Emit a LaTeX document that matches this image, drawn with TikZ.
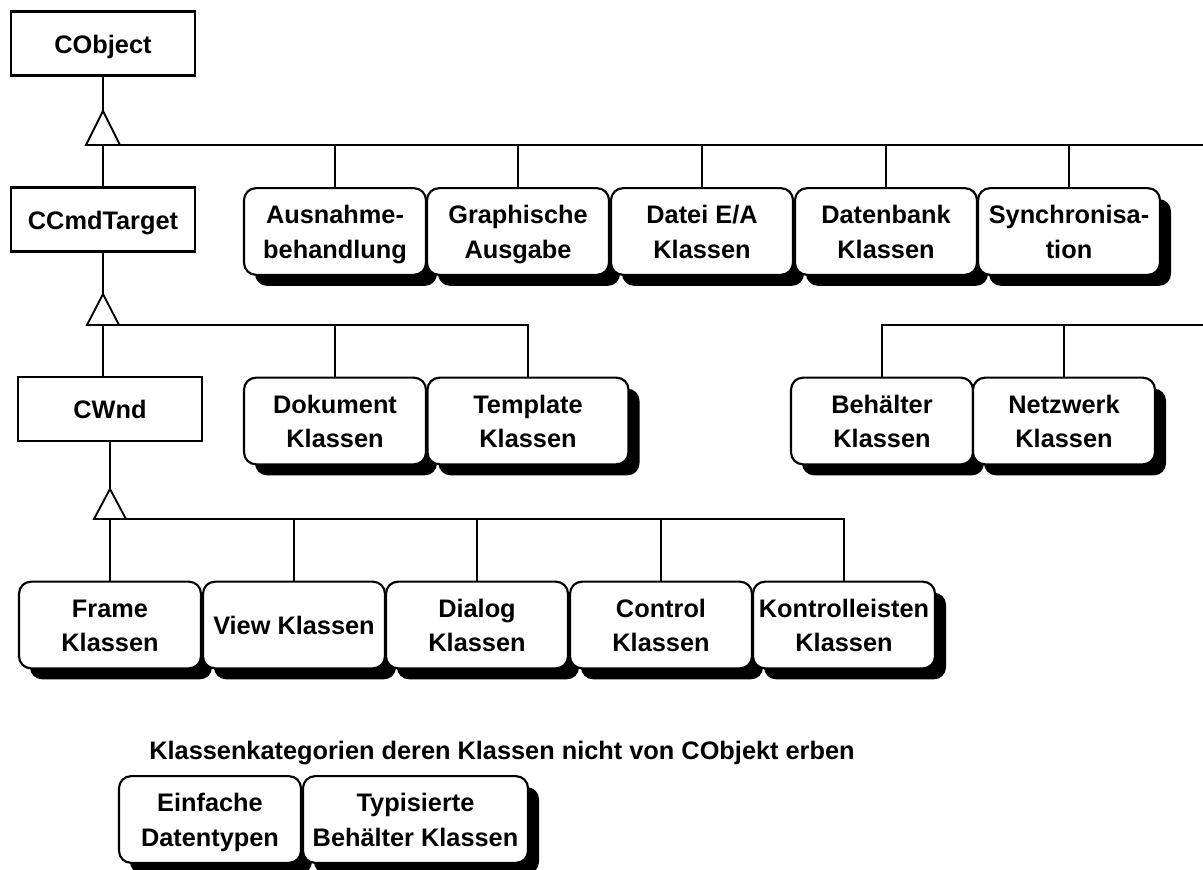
\documentclass[tikz,border=0pt]{standalone}
\usepackage{fontspec}
\setmainfont{Liberation Sans}
\usetikzlibrary{shadows}
\newcommand\boxfont{\fontsize{19}{26}\selectfont\bfseries}
% fixed first-line height and last-line depth, so every label sits alike
\newcommand\topstrut{\rule{0pt}{18.4pt}}
\newcommand\botstrut{\rule[-4pt]{0pt}{0pt}}
\newcommand\lbl[1]{\topstrut#1\botstrut}

\begin{document}
\begin{tikzpicture}[x=0.75pt,y=-0.75pt,
  cls/.style={draw, fill=white, line width=1.6pt, minimum width=138pt,
    minimum height=48pt, inner sep=0pt, font=\boxfont,
    execute at begin node=\topstrut, execute at end node=\botstrut},
  cat/.style={draw, fill=white, line width=1.6pt, rounded corners=9pt,
    minimum width=136.5pt, minimum height=65pt, inner sep=0pt,
    align=center, font=\boxfont,
    general shadow={fill=black, shadow xshift=8.25pt, shadow yshift=-8.25pt}},
  wire/.style={line width=1.4pt},
  gen/.style={line width=1.4pt, fill=white, line join=miter}]

\useasboundingbox (0,0) rectangle (1203,870);

% class boxes of the main hierarchy
\node[cls] (cobj) at (103,43.5) {CObject};
\node[cls] (ccmd) at (103,219.5) {CCmdTarget};
\node[cls] (cwnd) at (110,409) {CWnd};

% categories deriving from CObject
\node[cat] (aus)  at (335,231.5)  {\lbl{Ausnahme-\\behandlung}};
\node[cat] (gra)  at (518,231.5)  {\lbl{Graphische\\Ausgabe}};
\node[cat] (dat)  at (702,231.5)  {\lbl{Datei E/A\\Klassen}};
\node[cat] (db)   at (886,231.5)  {\lbl{Datenbank\\Klassen}};
\node[cat] (syn)  at (1069,231.5) {\lbl{Synchronisa-\\tion}};

% categories deriving from CCmdTarget
\node[cat] (dok) at (335,421) {\lbl{Dokument\\Klassen}};
\node[cat, minimum width=150.75pt] (tpl) at (528,421) {\lbl{Template\\Klassen}};

% further CObject categories
\node[cat] (beh)  at (882,421)  {\lbl{Behälter\\Klassen}};
\node[cat] (netz) at (1064,421) {\lbl{Netzwerk\\Klassen}};

% categories deriving from CWnd
\node[cat] (frm) at (110,625) {\lbl{Frame\\Klassen}};
\node[cat] (vw)  at (294,625) {\lbl{View Klassen}};
\node[cat] (dlg) at (477,625) {\lbl{Dialog\\Klassen}};
\node[cat] (ctl) at (661,625) {\lbl{Control\\Klassen}};
\node[cat] (kon) at (844,625) {\lbl{Kontrolleisten\\Klassen}};

% categories outside the CObject hierarchy
\node[font=\boxfont, anchor=base] (cap) at (502,759)
  {Klassenkategorien deren Klassen nicht von CObjekt erben};
\node[cat] (einf) at (210,819.5) {\lbl{Einfache\\Datentypen}};
\node[cat, minimum width=168.75pt] (typ) at (415.5,819.5) {\lbl{Typisierte\\Behälter Klassen}};

% generalization points (triangle base centres and apexes)
\coordinate (g1) at (103,145);  \coordinate (g1a) at (103,111);
\coordinate (g2) at (103,325);  \coordinate (g2a) at (103,294);
\coordinate (g3) at (110,519);  \coordinate (g3a) at (110,489);
\coordinate (bus1end) at (1203,145);
\coordinate (bus2end) at (1203,325);

% CObject generalization
\draw[wire] (cobj.south) -- (g1a);
\draw[wire] (g1) -- (g1 |- ccmd.north);
\draw[wire] (g1) -- (bus1end);
\foreach \n in {aus,gra,dat,db,syn}
  \draw[wire] (\n.north) -- (\n.north |- g1);
\draw[gen] (g1a) -- ++(-17,34) -- ++(34,0) -- cycle;

% CCmdTarget generalization
\draw[wire] (ccmd.south) -- (g2a);
\draw[wire] (g2) -- (g2 |- cwnd.north);
\draw[wire] (g2) -| (tpl.north);
\draw[wire] (dok.north) -- (dok.north |- g2);
\draw[gen] (g2a) -- ++(-16,31) -- ++(32,0) -- cycle;

% second CObject branch
\draw[wire] (beh.north) |- (bus2end);
\draw[wire] (netz.north) -- (netz.north |- bus2end);

% CWnd generalization
\draw[wire] (cwnd.south) -- (g3a);
\draw[wire] (g3) -- (frm.north);
\draw[wire] (g3) -| (kon.north);
\foreach \n in {vw,dlg,ctl}
  \draw[wire] (\n.north) -- (\n.north |- g3);
\draw[gen] (g3a) -- ++(-16,30) -- ++(32,0) -- cycle;

\end{tikzpicture}
\end{document}
